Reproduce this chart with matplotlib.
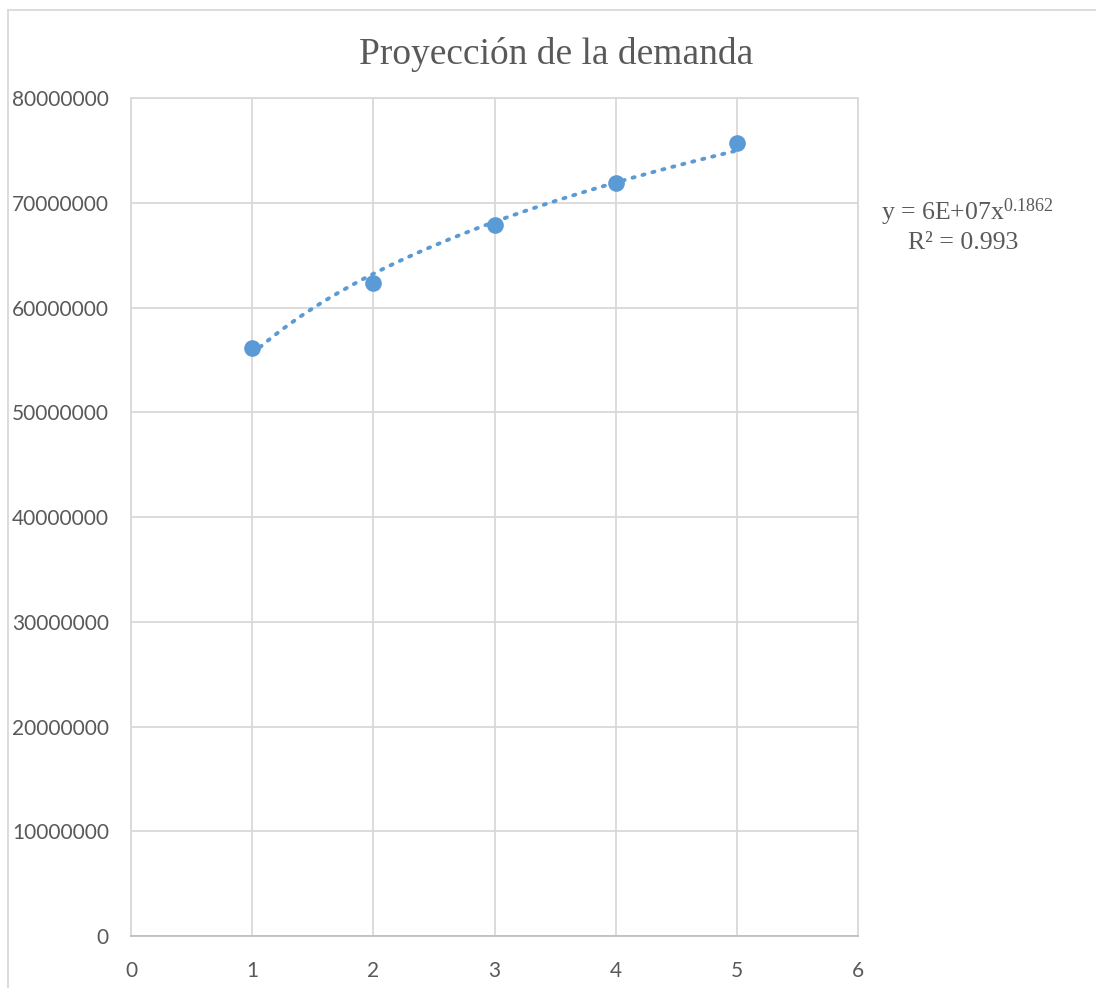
import numpy as np
import matplotlib
matplotlib.use("Agg")
import matplotlib.pyplot as plt
from matplotlib.lines import Line2D

# Data
YEARS = [1, 2, 3, 4, 5]
DEMAND = [56100000, 62350000, 67850000, 71850000, 75750000]

X_TICKS = [0, 1, 2, 3, 4, 5, 6]
Y_TICKS = [0, 10000000, 20000000, 30000000, 40000000,
           50000000, 60000000, 70000000, 80000000]

TITLE = "Proyección de la demanda"
EQUATION = "y = 6E+07x$^{0.1862}$"
R2_TEXT = "R² = 0.993"

BLUE = "#5B9BD5"
GRID = "#D9D9D9"
TEXT = "#595959"

plt.rcParams["font.family"] = ["Lato", "DejaVu Sans"]
plt.rcParams["mathtext.fontset"] = "custom"
plt.rcParams["mathtext.rm"] = "Liberation Serif"
plt.rcParams["mathtext.it"] = "Liberation Serif"
plt.rcParams["mathtext.default"] = "rm"

fig = plt.figure(figsize=(10.96, 9.88), dpi=100)
ax = fig.add_axes([131 / 1096, 1 - 936 / 988, (858 - 131) / 1096, (936 - 98) / 988])

# power trendline fitted on the data (log-log least squares, as Excel does)
b, log_a = np.polyfit(np.log(YEARS), np.log(DEMAND), 1)
xs = np.linspace(YEARS[0], YEARS[-1], 200)
ax.plot(xs, np.exp(log_a) * xs ** b, color=BLUE, lw=2.8,
        linestyle=(0, (0.55, 2.1)), dash_capstyle="round", zorder=3)

ax.plot(YEARS, DEMAND, "o", color=BLUE, markersize=12, zorder=4,
        markeredgewidth=0)

ax.set_xlim(0, 6)
ax.set_ylim(0, 80000000)
ax.set_xticks(X_TICKS)
ax.set_yticks(Y_TICKS)
ax.set_xticklabels([str(v) for v in X_TICKS])
ax.set_yticklabels([str(v) for v in Y_TICKS])
ax.grid(True, color=GRID, lw=1.3)
ax.set_axisbelow(True)
for side, sp in ax.spines.items():
    sp.set_color(GRID)
    sp.set_linewidth(1.3)
ax.spines["bottom"].set_color("#BFBFBF")
ax.tick_params(length=0, labelsize=15, colors=TEXT)
ax.tick_params(axis="x", pad=18)
ax.tick_params(axis="y", pad=16)

fig.text(556 / 1096, 1 - 54 / 988, TITLE, ha="center", va="center",
         fontsize=27, color=TEXT, family="Liberation Serif")
fig.text(967 / 1096, 1 - 212 / 988, EQUATION, ha="center", va="center",
         fontsize=18.5, color=TEXT, family="Liberation Serif")
fig.text(963 / 1096, 1 - 243 / 988, R2_TEXT, ha="center", va="center",
         fontsize=18.5, color=TEXT, family="Liberation Serif")

# outer chart frame (clipped at the right and bottom in the reference)
fig.add_artist(Line2D([8 / 1096, 1.0], [1 - 10 / 988, 1 - 10 / 988],
                      transform=fig.transFigure, color=GRID, lw=1.3))
fig.add_artist(Line2D([8 / 1096, 8 / 1096], [0.0, 1 - 10 / 988],
                      transform=fig.transFigure, color=GRID, lw=1.3))

fig.savefig("out.png", dpi=100)
